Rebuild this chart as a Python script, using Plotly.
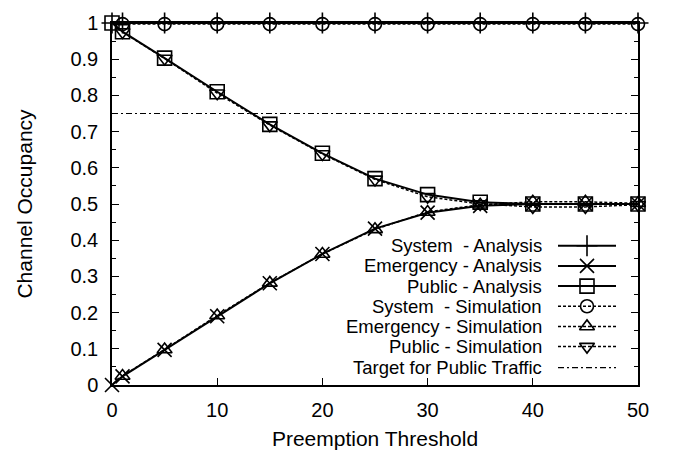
import plotly.graph_objects as go

# ---- data ----
thresholds = [0, 1, 5, 10, 15, 20, 25, 30, 35, 40, 45, 50]
system_analysis = [1, 1, 1, 1, 1, 1, 1, 1, 1, 1, 1, 1]
emergency_analysis = [0.0, 0.024, 0.097, 0.19, 0.281, 0.362, 0.432, 0.476, 0.495, 0.5, 0.5, 0.5]
public_analysis = [1.0, 0.976, 0.903, 0.81, 0.72, 0.64, 0.57, 0.526, 0.505, 0.5, 0.5, 0.5]

sim_thresholds = [1, 5, 10, 15, 20, 25, 30, 35, 40, 45, 50]
system_simulation = [0.997, 0.997, 0.997, 0.997, 0.997, 0.997, 0.997, 0.997, 0.997, 0.997, 0.997]
emergency_simulation = [0.025, 0.098, 0.192, 0.282, 0.362, 0.43, 0.478, 0.498, 0.506, 0.506, 0.502]
public_simulation = [0.975, 0.902, 0.806, 0.718, 0.638, 0.568, 0.52, 0.5, 0.492, 0.492, 0.498]

target_x = [0, 50]
target_public = [0.75, 0.75]

x_ticks = [0, 10, 20, 30, 40, 50]
y_ticks = [0, 0.1, 0.2, 0.3, 0.4, 0.5, 0.6, 0.7, 0.8, 0.9, 1]
y_tick_labels = ["0", "0.1", "0.2", "0.3", "0.4", "0.5", "0.6", "0.7", "0.8", "0.9", "1"]

legend_labels = [
    "System&nbsp; - Analysis",
    "Emergency - Analysis",
    "Public - Analysis",
    "System&nbsp; - Simulation",
    "Emergency - Simulation",
    "Public - Simulation",
    "Target for Public Traffic",
]

FONT = "Liberation Sans, Arial, Helvetica, sans-serif"
BLACK = "black"

styles = [
    dict(dash="solid", width=2, symbol="cross-thin-open", size=15),
    dict(dash="solid", width=2, symbol="x-thin-open", size=14),
    dict(dash="solid", width=2, symbol="square-open", size=14),
    dict(dash="3px,2px", width=1.5, symbol="circle-open", size=13),
    dict(dash="3px,2px", width=1.5, symbol="triangle-up-open", size=13),
    dict(dash="3px,2px", width=1.5, symbol="triangle-down-open", size=13),
    dict(dash="6px,3px,2px,3px", width=1.2, symbol=None, size=0),
]

series = [
    (thresholds, system_analysis),
    (thresholds, emergency_analysis),
    (thresholds, public_analysis),
    (sim_thresholds, system_simulation),
    (sim_thresholds, emergency_simulation),
    (sim_thresholds, public_simulation),
    (target_x, target_public),
]

def marker_for(st):
    if not st["symbol"]:
        return None
    return dict(symbol=st["symbol"], size=st["size"], color=BLACK,
                line=dict(color=BLACK, width=1.6))

fig = go.Figure()

draw_order = [6, 3, 4, 5, 0, 1, 2]
for i in draw_order:
    xs, ys = series[i]
    st = styles[i]
    fig.add_trace(go.Scatter(
        x=xs, y=ys,
        mode="lines+markers" if st["symbol"] else "lines",
        line=dict(color=BLACK, width=st["width"], dash=st["dash"]),
        marker=marker_for(st),
        cliponaxis=False,
        showlegend=False,
        hoverinfo="skip",
    ))

# ---- manual gnuplot-style legend (text right, sample on the right) ----
L, R, T, B = 112, 37, 15, 67
W, H = 675, 459
pw, ph = W - L - R, H - T - B
row_px = [247, 268, 289, 310, 331, 352, 374]
text_right_px = 543
samp_x0, samp_x1, samp_xm = 558, 616, 587

def fx(px):
    return (px - L) / pw

def fy(py):
    return (H - B - py) / ph

for i, lab in enumerate(legend_labels):
    yy = fy(row_px[i])
    st = styles[i]
    fig.add_trace(go.Scatter(
        x=[fx(samp_x0), fx(samp_x1)], y=[yy, yy],
        xaxis="x2", yaxis="y2", mode="lines",
        line=dict(color=BLACK, width=st["width"], dash=st["dash"]),
        showlegend=False, hoverinfo="skip", cliponaxis=False,
    ))
    if st["symbol"]:
        fig.add_trace(go.Scatter(
            x=[fx(samp_xm)], y=[yy], xaxis="x2", yaxis="y2", mode="markers",
            marker=marker_for(st),
            showlegend=False, hoverinfo="skip", cliponaxis=False,
        ))
    fig.add_annotation(
        x=fx(text_right_px), y=yy, xref="paper", yref="paper",
        text=lab, showarrow=False, xanchor="right", yanchor="middle",
        borderpad=0,
        font=dict(family=FONT, size=18.5, color=BLACK),
    )

fig.update_layout(
    width=W, height=H,
    margin=dict(l=L, r=R, t=T, b=B, pad=0),
    paper_bgcolor="white", plot_bgcolor="white",
    font=dict(family=FONT, size=20, color=BLACK),
    showlegend=False,
    xaxis=dict(
        range=[0, 50], tickvals=x_ticks, ticktext=[str(v) for v in x_ticks],
        ticks="inside", ticklen=7, tickwidth=1, tickcolor=BLACK,
        showline=True, linecolor=BLACK, linewidth=1.5, mirror="allticks",
        showgrid=False, zeroline=False,
        ticklabelstandoff=6,
        title=dict(text="Preemption Threshold", standoff=12,
                   font=dict(family=FONT, size=21)),
        tickfont=dict(family=FONT, size=20),
    ),
    yaxis=dict(
        range=[0, 1], tickvals=y_ticks, ticktext=y_tick_labels,
        ticks="inside", ticklen=7, tickwidth=1, tickcolor=BLACK,
        minor=dict(ticks="inside", ticklen=4, dtick=0.05, tickcolor=BLACK, showgrid=False),
        showline=True, linecolor=BLACK, linewidth=1.5, mirror="allticks",
        showgrid=False, zeroline=False,
        ticklabelstandoff=8,
        title=dict(text="Channel Occupancy", standoff=32,
                   font=dict(family=FONT, size=21)),
        tickfont=dict(family=FONT, size=20),
    ),
    xaxis2=dict(range=[0, 1], overlaying="x", visible=False, anchor="y2"),
    yaxis2=dict(range=[0, 1], overlaying="y", visible=False, anchor="x2"),
)

fig.write_html(
    "out.html",
    config={"displayModeBar": False},
    post_script="document.body.style.margin='0';document.body.style.overflow='hidden';",
)
